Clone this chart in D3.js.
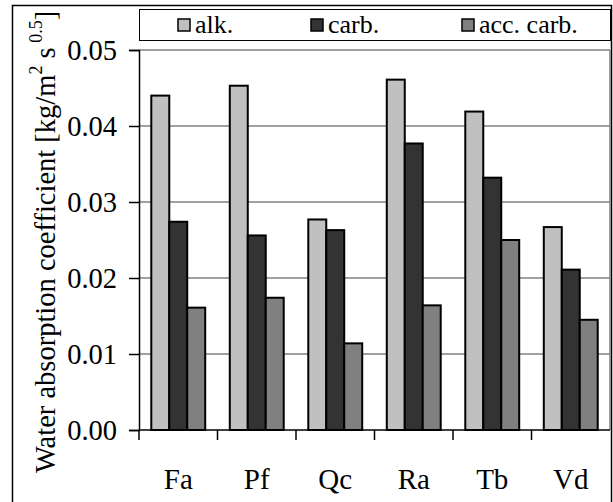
<!DOCTYPE html>
<html>
<head>
<meta charset="utf-8">
<script src="https://cdn.jsdelivr.net/npm/d3@7"></script>
</head>
<body style="margin:0;background:#fff">
<svg id="chart" width="613" height="502" font-family="Liberation Serif"></svg>
<script>
// Water absorption coefficients per wood species and treatment
const categories = ["Fa", "Pf", "Qc", "Ra", "Tb", "Vd"];
const seriesNames = ["alk.", "carb.", "acc. carb."];
const alk = [0.0440, 0.0453, 0.0277, 0.0461, 0.0419, 0.0267];
const carb = [0.0274, 0.0256, 0.0263, 0.0377, 0.0332, 0.0211];
const accCarb = [0.0161, 0.0174, 0.0114, 0.0164, 0.0250, 0.0145];
const yTicks = [0, 0.01, 0.02, 0.03, 0.04, 0.05];
const seriesColors = ["#c0c0c0", "#333333", "#808080"];

const FONT = "Liberation Serif";
const seriesValues = [alk, carb, accCarb];
const rows = categories.map((c, i) => ({
  cat: c,
  vals: seriesNames.map((s, j) => ({ key: s, idx: j, value: seriesValues[j][i] }))
}));

const svg = d3.select("#chart");
const plot = { left: 139, right: 610, top: 50, bottom: 430 };

const x0 = d3.scaleBand().domain(categories)
  .range([plot.left, plot.right]).paddingInner(0.313).paddingOuter(0.1565);
const x1 = d3.scaleBand().domain(d3.range(seriesNames.length))
  .range([0, x0.bandwidth()]);
const y = d3.scaleLinear().domain([0, 0.05]).range([plot.bottom, plot.top]);
const color = d3.scaleOrdinal().domain(d3.range(3)).range(seriesColors);

// outer frame
svg.append("rect")
  .attr("x", 12.5).attr("y", 5.5).attr("width", 599).attr("height", 520)
  .attr("fill", "none").attr("stroke", "#000").attr("stroke-width", 1.5);

// horizontal gridlines
svg.append("g").selectAll("line").data(yTicks.slice(1)).join("line")
  .attr("x1", plot.left).attr("x2", plot.right)
  .attr("y1", d => y(d)).attr("y2", d => y(d))
  .attr("stroke", "#808080").attr("stroke-width", 1.5);

// right edge of plot area
svg.append("line")
  .attr("x1", plot.right).attr("x2", plot.right)
  .attr("y1", plot.top).attr("y2", plot.bottom)
  .attr("stroke", "#808080").attr("stroke-width", 1.5);

// bars
const groups = svg.append("g").selectAll("g").data(rows).join("g")
  .attr("transform", d => `translate(${x0(d.cat)},0)`);
groups.selectAll("rect").data(d => d.vals).join("rect")
  .attr("x", d => x1(d.idx))
  .attr("y", d => y(d.value))
  .attr("width", x1.bandwidth())
  .attr("height", d => y(0) - y(d.value))
  .attr("fill", d => color(d.idx))
  .attr("stroke", "#000").attr("stroke-width", 2);

// y axis
const yAxis = svg.append("g")
  .attr("transform", `translate(${plot.left},0)`)
  .call(d3.axisLeft(y).tickValues(yTicks).tickFormat(d3.format(".2f"))
    .tickSize(10).tickPadding(12));
yAxis.attr("font-family", FONT).attr("font-size", 28.5);
yAxis.select(".domain").attr("stroke", "#000").attr("stroke-width", 1.5);
yAxis.selectAll(".tick line").attr("stroke", "#000").attr("stroke-width", 1.5);
yAxis.selectAll(".tick text")
  .attr("font-family", FONT).attr("font-size", 28.5)
  .attr("fill", "#000").attr("dy", "0.34em");

// x axis: ticks at category boundaries
const bounds = categories.map(c => x0(c) - x0.step() * x0.paddingInner() / 2);
const xAxis = svg.append("g").attr("transform", `translate(0,${plot.bottom})`);
xAxis.append("line")
  .attr("x1", plot.left).attr("x2", plot.right)
  .attr("stroke", "#000").attr("stroke-width", 1.5);
xAxis.selectAll(".bt").data(bounds).join("line").attr("class", "bt")
  .attr("x1", d => d).attr("x2", d => d).attr("y1", 0).attr("y2", 10)
  .attr("stroke", "#000").attr("stroke-width", 1.5);
xAxis.selectAll("text").data(categories).join("text")
  .attr("x", d => x0(d) + x0.bandwidth() / 2)
  .attr("y", 59)
  .attr("text-anchor", "middle")
  .attr("font-family", FONT).attr("font-size", 29).attr("fill", "#000")
  .text(d => d);

// y axis title with superscripts
const title = svg.append("text")
  .attr("transform", "translate(55,473) rotate(-90)")
  .attr("font-family", FONT).attr("font-size", 28.5).attr("fill", "#000");
title.append("tspan").text("Water absorption coefficient [kg/m");
title.append("tspan").attr("dy", -13).attr("font-size", 18).text("2");
title.append("tspan").attr("dy", 13).text(" s");
title.append("tspan").attr("dy", -13).attr("font-size", 18).text(" 0.5");
title.append("tspan").attr("dy", 13).text("]");

// legend
svg.append("rect")
  .attr("x", 139.5).attr("y", 9.5).attr("width", 471).attr("height", 31)
  .attr("fill", "#fff").attr("stroke", "#000").attr("stroke-width", 1);
const legendX = [178, 311, 462];
const lg = svg.append("g").selectAll("g").data(seriesNames).join("g")
  .attr("transform", (d, i) => `translate(${legendX[i]},0)`);
lg.append("rect")
  .attr("x", 0).attr("y", 19).attr("width", 12).attr("height", 12)
  .attr("fill", (d, i) => color(i)).attr("stroke", "#000").attr("stroke-width", 1.5);
lg.append("text")
  .attr("x", 17).attr("y", 33)
  .attr("font-family", FONT).attr("font-size", 26).attr("fill", "#000")
  .text(d => d);
</script>
</body>
</html>
